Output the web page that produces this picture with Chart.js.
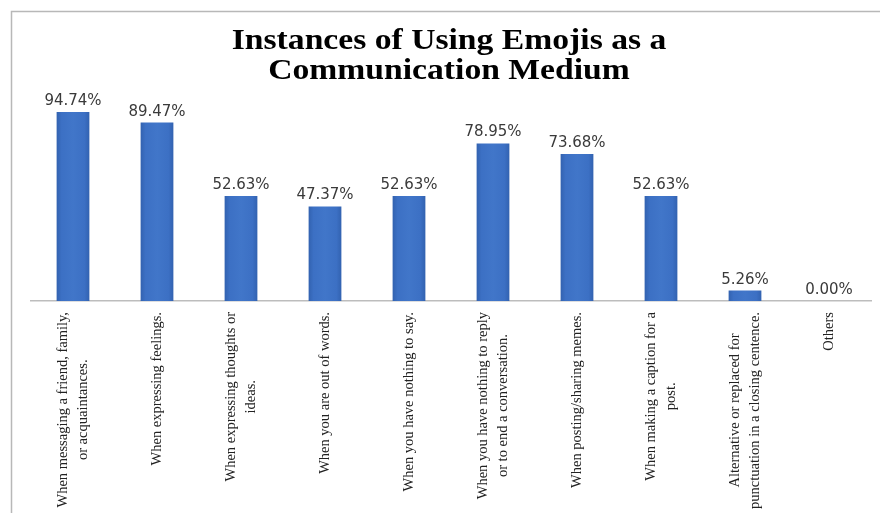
<!DOCTYPE html>
<html><head><meta charset="utf-8">
<script src="https://cdn.jsdelivr.net/npm/chart.js@4/dist/chart.umd.min.js"></script>
<style>html,body{margin:0;padding:0;background:#fff}#wrap{width:880px;height:513px;position:relative}</style>
</head><body><div id="wrap"><canvas id="c" width="880" height="513"></canvas></div>
<script>
const categories = [
  ['When messaging a friend, family,', 'or acquaintances.'],
  ['When expressing feelings.'],
  ['When expressing thoughts or', 'ideas.'],
  ['When you are out of words.'],
  ['When you have nothing to say.'],
  ['When you have nothing to reply', 'or to end a conversation.'],
  ['When posting/sharing memes.'],
  ['When making a caption for a', 'post.'],
  ['Alternative or replaced for', 'punctuation in a closing centence.'],
  ['Others']
];
const percentages = [94.74, 89.47, 52.63, 47.37, 52.63, 78.95, 73.68, 52.63, 5.26, 0.00];
const titleLines = ['Instances of Using Emojis as a', 'Communication Medium'];

const BAR_FRACTION = 0.39;

const framePlugin = {
  id: 'frame',
  beforeDraw(chart) {
    const c = chart.ctx;
    c.save();
    c.fillStyle = '#ffffff';
    c.fillRect(0, 0, chart.width, chart.height);
    c.strokeStyle = '#b8b8b8';
    c.lineWidth = 1.5;
    c.beginPath();
    c.moveTo(11.5, chart.height);
    c.lineTo(11.5, 11.5);
    c.lineTo(chart.width, 11.5);
    c.stroke();
    c.restore();
  }
};

// Two-line title, slightly widened like the original
const titlePlugin = {
  id: 'wideTitle',
  afterDraw(chart) {
    const c = chart.ctx;
    const a = chart.chartArea;
    const cx = (a.left + a.right) / 2 - 2;
    c.save();
    c.font = 'bold 29px "Liberation Serif"';
    c.fillStyle = '#000';
    c.textAlign = 'center';
    c.textBaseline = 'alphabetic';
    const baselines = [49, 79];
    titleLines.forEach((t, i) => {
      c.save();
      c.translate(cx, baselines[i]);
      c.scale(1.16, 1);
      c.fillText(t, 0, 0);
      c.restore();
    });
    c.restore();
  }
};

const valueLabels = {
  id: 'valueLabels',
  afterDatasetsDraw(chart) {
    const c = chart.ctx;
    const meta = chart.getDatasetMeta(0);
    c.save();
    c.font = '15px "DejaVu Sans"';
    c.fillStyle = '#3a3a3a';
    c.textAlign = 'center';
    c.textBaseline = 'alphabetic';
    meta.data.forEach((bar, i) => {
      c.fillText(percentages[i].toFixed(2) + '%', bar.x, bar.y - 7);
    });
    c.restore();
  }
};

// Category labels: rotated, each line centred within its label block
const categoryLabels = {
  id: 'categoryLabels',
  afterDraw(chart) {
    const c = chart.ctx;
    const xs = chart.scales.x;
    const lh = 20.5;
    c.save();
    c.font = '14.5px "Liberation Serif"';
    c.fillStyle = '#222222';
    c.textAlign = 'center';
    c.textBaseline = 'middle';
    categories.forEach((lines, i) => {
      const px = xs.getPixelForValue(i);
      const maxW = Math.max(...lines.map(l => c.measureText(l).width));
      const n = lines.length;
      c.save();
      c.translate(px, xs.top + 11 + maxW / 2);
      c.rotate(-Math.PI / 2);
      lines.forEach((l, j) => c.fillText(l, 0, (j - (n - 1) / 2) * lh));
      c.restore();
    });
    c.restore();
  }
};

function barGradient(ctx) {
  const chart = ctx.chart;
  const xs = chart.scales.x;
  if (!xs || ctx.dataIndex === undefined) return '#3d71c4';
  const cx = xs.getPixelForValue(ctx.dataIndex);
  const w = (xs.width / categories.length) * BAR_FRACTION;
  if (!isFinite(cx) || !isFinite(w)) return '#3d71c4';
  const g = chart.ctx.createLinearGradient(cx - w / 2, 0, cx + w / 2, 0);
  g.addColorStop(0, '#3262b0');
  g.addColorStop(0.15, '#3c70c4');
  g.addColorStop(0.5, '#4176c9');
  g.addColorStop(0.85, '#3c70c4');
  g.addColorStop(1, '#3262b0');
  return g;
}

new Chart(document.getElementById('c'), {
  type: 'bar',
  data: {
    labels: categories.map(l => l.join(' ')),
    datasets: [{
      data: percentages,
      backgroundColor: barGradient,
      borderWidth: 0,
      categoryPercentage: 1,
      barPercentage: BAR_FRACTION
    }]
  },
  options: {
    responsive: false,
    devicePixelRatio: 1,
    animation: false,
    layout: { padding: { left: 31, right: 9, top: 101.5, bottom: 0 } },
    plugins: {
      legend: { display: false },
      tooltip: { enabled: false },
      title: { display: false }
    },
    scales: {
      y: { display: false, min: 0, max: 100 },
      x: {
        grid: { display: false, drawTicks: false },
        border: { display: true, color: '#bdbdbd', width: 1.5 },
        ticks: { display: false },
        afterFit(scale) { scale.height = 212; }
      }
    }
  },
  plugins: [framePlugin, valueLabels, categoryLabels, titlePlugin]
});
</script>
</body></html>
